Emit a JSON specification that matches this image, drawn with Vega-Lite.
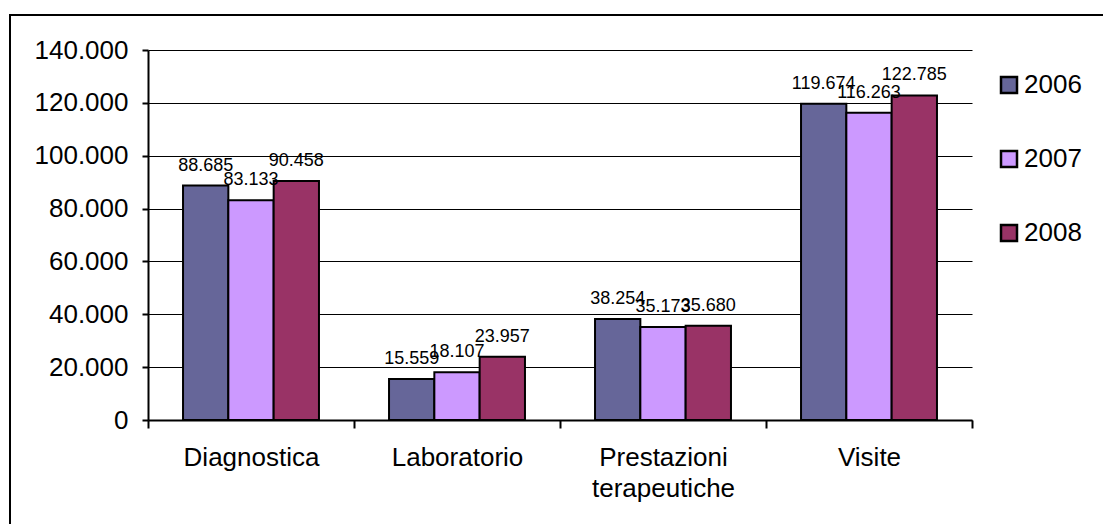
{
  "$schema": "https://vega.github.io/schema/vega-lite/v6.json",
  "width": 1110,
  "height": 520,
  "autosize": {"type": "none"},
  "padding": {"left": 10, "top": 15, "right": 0, "bottom": 0},
  "background": "white",
  "config": {
    "locale": {"number": {"decimal": ",", "thousands": ".", "grouping": [3], "currency": ["€", ""]}},
    "font": "Liberation Sans",
    "view": {"stroke": "black", "strokeWidth": 2}
  },
  "data": {
    "values": [
      {"categoria": "Diagnostica", "anno": "2006", "valore": 88685},
      {"categoria": "Diagnostica", "anno": "2007", "valore": 83133},
      {"categoria": "Diagnostica", "anno": "2008", "valore": 90458},
      {"categoria": "Laboratorio", "anno": "2006", "valore": 15559},
      {"categoria": "Laboratorio", "anno": "2007", "valore": 18107},
      {"categoria": "Laboratorio", "anno": "2008", "valore": 23957},
      {"categoria": "Prestazioni terapeutiche", "anno": "2006", "valore": 38254},
      {"categoria": "Prestazioni terapeutiche", "anno": "2007", "valore": 35173},
      {"categoria": "Prestazioni terapeutiche", "anno": "2008", "valore": 35680},
      {"categoria": "Visite", "anno": "2006", "valore": 119674},
      {"categoria": "Visite", "anno": "2007", "valore": 116263},
      {"categoria": "Visite", "anno": "2008", "valore": 122785}
    ]
  },
  "encoding": {
    "x": {
      "field": "categoria",
      "type": "nominal",
      "sort": null,
      "scale": {"range": [138, 962], "paddingInner": 0, "paddingOuter": 0},
      "axis": {
        "title": null,
        "offset": -115,
        "labelAngle": 0,
        "labelFontSize": 26,
        "labelColor": "black",
        "labelPadding": 16,
        "labelLineHeight": 31,
        "labelExpr": "datum.value == 'Prestazioni terapeutiche' ? ['Prestazioni', 'terapeutiche'] : datum.label",
        "tickBand": "extent",
        "tickSize": 8,
        "tickColor": "black",
        "tickWidth": 2,
        "domainColor": "black",
        "domainWidth": 2
      }
    },
    "xOffset": {
      "field": "anno",
      "type": "nominal",
      "scale": {"paddingInner": 0, "paddingOuter": 0.773}
    },
    "y": {
      "field": "valore",
      "type": "quantitative",
      "scale": {"domain": [0, 140000], "range": [405, 35], "nice": false},
      "axis": {
        "title": null,
        "offset": -138,
        "values": [0, 20000, 40000, 60000, 80000, 100000, 120000, 140000],
        "format": ",d",
        "labelFontSize": 26,
        "labelColor": "black",
        "labelPadding": 14,
        "tickSize": 6,
        "tickColor": "black",
        "tickWidth": 2,
        "domainColor": "black",
        "domainWidth": 2,
        "gridColor": "black",
        "gridWidth": 1,
        "gridOpacity": 1
      }
    }
  },
  "layer": [
    {
      "mark": {"type": "bar", "stroke": "black", "strokeWidth": 2},
      "encoding": {
        "color": {
          "field": "anno",
          "type": "nominal",
          "scale": {"domain": ["2006", "2007", "2008"], "range": ["#666699", "#CC99FF", "#993366"]},
          "legend": {
            "title": null,
            "orient": "none",
            "legendX": 986,
            "legendY": 57,
            "symbolType": "square",
            "symbolSize": 256,
            "symbolStrokeColor": "black",
            "symbolStrokeWidth": 2.5,
            "symbolOpacity": 1,
            "labelFontSize": 26,
            "labelColor": "black",
            "labelOffset": 2,
            "rowPadding": 48
          }
        }
      }
    },
    {
      "mark": {"type": "text", "baseline": "alphabetic", "dy": -15, "fontSize": 18, "color": "black"},
      "encoding": {
        "text": {"field": "valore", "type": "quantitative", "format": ",d"}
      }
    }
  ]
}
